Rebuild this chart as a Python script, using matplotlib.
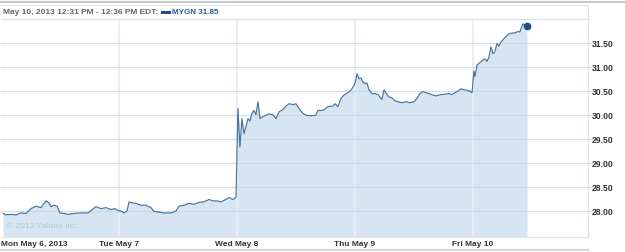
import matplotlib
matplotlib.use("Agg")
import matplotlib.pyplot as plt
from matplotlib.lines import Line2D

plt.rcParams['font.family'] = ['Liberation Sans', 'DejaVu Sans']

# MYGN intraday, May 6-10 2013 (x = trading days since Mon open)
t_days = [
    0.017, 0.042, 0.085, 0.127, 0.169, 0.212, 0.254, 0.297, 0.339, 0.381,
    0.407, 0.424, 0.449, 0.475, 0.500, 0.534, 0.568, 0.619, 0.678, 0.737,
    0.763, 0.805, 0.847, 0.890, 0.932, 0.966, 0.992,
    1.017, 1.042, 1.068, 1.085, 1.110, 1.144, 1.186, 1.229, 1.271, 1.297,
    1.331, 1.381, 1.441, 1.483, 1.508, 1.551, 1.593, 1.636, 1.678, 1.720,
    1.763, 1.797, 1.831, 1.864, 1.907, 1.932, 1.966, 1.992,
    2.008, 2.025, 2.042, 2.059, 2.076, 2.093, 2.110, 2.127, 2.144, 2.161,
    2.178, 2.195, 2.220, 2.246, 2.271, 2.305, 2.331, 2.356, 2.390, 2.415,
    2.441, 2.475, 2.500, 2.525, 2.559, 2.585, 2.627, 2.669, 2.686, 2.712,
    2.737, 2.771, 2.814, 2.831, 2.856, 2.881, 2.907, 2.941, 2.966, 2.992,
    3.008, 3.017, 3.034, 3.051, 3.068, 3.085, 3.102, 3.119, 3.144, 3.169,
    3.195, 3.220, 3.229, 3.246, 3.263, 3.288, 3.314, 3.339, 3.364, 3.398,
    3.432, 3.466, 3.500, 3.525, 3.551, 3.576, 3.602, 3.627, 3.661, 3.686,
    3.712, 3.737, 3.771, 3.797, 3.822, 3.847, 3.873, 3.898, 3.924, 3.949,
    3.975, 3.992,
    4.008, 4.017, 4.034, 4.051, 4.076, 4.102, 4.119, 4.136, 4.153, 4.169,
    4.186, 4.203, 4.220, 4.237, 4.263, 4.288, 4.305, 4.331, 4.356, 4.381,
    4.398, 4.415, 4.424, 4.441, 4.458,
]
price = [
    27.96, 27.93, 27.94, 27.93, 27.97, 27.96, 28.06, 28.11, 28.08, 28.22,
    28.18, 28.10, 28.13, 28.11, 27.97, 27.96, 27.94, 27.96, 27.97, 27.97,
    28.02, 28.10, 28.06, 28.08, 28.04, 28.06, 28.02,
    28.01, 27.97, 28.01, 28.20, 28.18, 28.17, 28.13, 28.13, 28.08, 28.00,
    27.99, 27.97, 27.97, 28.01, 28.11, 28.13, 28.17, 28.15, 28.19, 28.20,
    28.25, 28.22, 28.22, 28.20, 28.25, 28.29, 28.25, 28.29,
    30.14, 29.34, 29.93, 29.62, 29.76, 29.93, 29.88, 30.04, 30.10, 30.01,
    30.28, 29.93, 29.97, 30.00, 30.03, 30.01, 29.93, 30.07, 30.12, 30.19,
    30.24, 30.22, 30.24, 30.14, 30.04, 30.00, 29.99, 30.00, 30.10, 30.10,
    30.11, 30.18, 30.19, 30.24, 30.18, 30.35, 30.42, 30.47, 30.52, 30.62,
    30.73, 30.86, 30.76, 30.77, 30.69, 30.66, 30.67, 30.53, 30.45, 30.45,
    30.43, 30.35, 30.33, 30.53, 30.46, 30.38, 30.36, 30.30, 30.28, 30.26,
    30.28, 30.26, 30.28, 30.35, 30.45, 30.49, 30.47, 30.45, 30.42, 30.40,
    30.42, 30.43, 30.44, 30.45, 30.43, 30.47, 30.50, 30.55, 30.53, 30.52,
    30.50, 30.47,
    30.92, 30.80, 31.04, 31.08, 31.13, 31.17, 31.12, 31.21, 31.42, 31.28,
    31.32, 31.49, 31.44, 31.52, 31.59, 31.66, 31.69, 31.71, 31.71, 31.74,
    31.73, 31.85, 31.90, 31.87, 31.85,
]
day_ticks = [0, 1, 2, 3, 4]
day_labels = ["Mon May 6, 2013", "Tue May 7", "Wed May 8", "Thu May 9", "Fri May 10"]
price_ticks = [28.0, 28.5, 29.0, 29.5, 30.0, 30.5, 31.0, 31.5]
header = "May 10, 2013 12:31 PM - 12:36 PM EDT:"
symbol = "MYGN"
last_price = 31.85

W, H = 625, 252
fig = plt.figure(figsize=(W / 100, H / 100), dpi=100)
ax = fig.add_axes([1 / W, 1 - 237 / H, 587 / W, 218 / H])

line_c = "#44739f"
fill_c = "#d6e5f1"

ax.fill_between(t_days, price, 27.0, color=fill_c, lw=0, zorder=1)
ax.plot(t_days, price, color=line_c, lw=0.85, zorder=4)
ax.plot([t_days[-1]], [last_price], "o", color="#1d4f86", ms=4.5, zorder=5)

ax.set_xlim(0, 4.975)
ax.set_ylim(27.47, 32.0)

# gridlines
for d in day_ticks[1:]:
    ax.axvline(d, color="#e9eef4", lw=1.3, zorder=2)
for p in price_ticks:
    ax.axhline(p, color="#c4d5e4", lw=0.9, zorder=2, alpha=0.75)

ax.set_xticks(day_ticks)
ax.set_xticklabels(day_labels)
ax.set_yticks(price_ticks)
ax.set_yticklabels(["%.2f" % p for p in price_ticks])
ax.yaxis.tick_right()
ax.tick_params(axis="y", length=3, width=0.8, color="#d3dde7", pad=-0.5,
               labelsize=6.2, labelcolor="#333333")
ax.tick_params(axis="x", length=0, pad=3, labelsize=6.0, labelcolor="#333333")
for lab in ax.get_xticklabels() + ax.get_yticklabels():
    lab.set_fontweight("bold")
xl = ax.get_xticklabels()
xl[0].set_horizontalalignment("left")

for s in ax.spines.values():
    s.set_color("#dde5ec")
    s.set_linewidth(0.9)
ax.spines["left"].set_visible(False)

ax.text(0.01, 0.04, "\u00a9 2013 Yahoo! Inc.", transform=ax.transAxes,
        fontsize=6, color="#b4c6d6", zorder=3)

# header strip
fig.add_artist(Line2D([0, 1], [1 - 1.5 / H, 1 - 1.5 / H], color="#c9c9c9", lw=1.5))
fig.add_artist(Line2D([0, 588 / W], [1 - 5 / H, 1 - 5 / H], color="#e2e8ee", lw=0.9))
fig.add_artist(Line2D([588 / W, 588 / W], [1 - 5 / H, 1 - 19 / H], color="#dde5ec", lw=0.9))
fig.add_artist(Line2D([0, 588 / W], [1 - 250 / H, 1 - 250 / H], color="#d6d6d6", lw=1.5))

fig.text(3 / W, 1 - 12 / H, header, fontsize=6.0, fontweight="bold",
         color="#666666", va="center")
fig.add_artist(Line2D([162 / W, 169 / W], [1 - 11.5 / H, 1 - 11.5 / H],
                      color="#1d4f86", lw=2.2))
fig.text(172 / W, 1 - 12 / H, "%s %.2f" % (symbol, last_price), fontsize=5.8,
         fontweight="bold", color="#2a5a94", va="center")

fig.savefig("out.png", dpi=100)
